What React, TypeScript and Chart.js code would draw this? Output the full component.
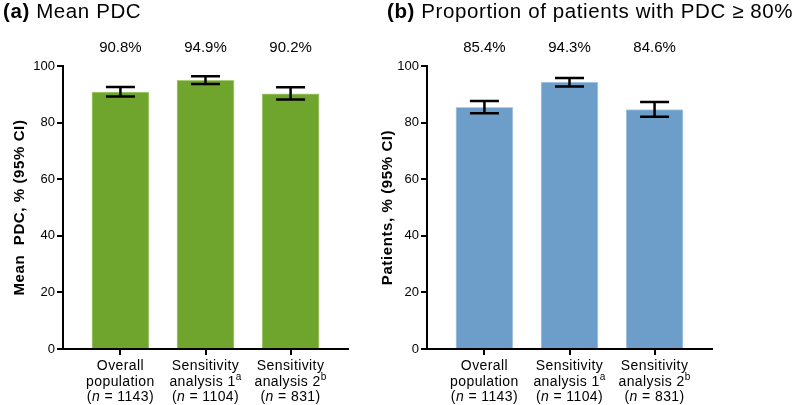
import React, { useEffect, useRef } from "react";
import { Chart, registerables } from "chart.js";

Chart.register(...registerables);

const categoryNames = ["Overall population", "Sensitivity analysis 1", "Sensitivity analysis 2"];
const footnotes = ["", "a", "b"];
const sampleSizes = [1143, 1104, 831];

const meanPdc = [90.8, 94.9, 90.2];
const meanPdcLow = [89.2, 93.6, 88.2];
const meanPdcHigh = [92.6, 96.4, 92.5];

const pdc80 = [85.4, 94.3, 84.6];
const pdc80Low = [83.3, 92.8, 82.1];
const pdc80High = [87.6, 95.8, 87.3];

const yTicks = [0, 20, 40, 60, 80, 100];

const FONT = "'Liberation Sans', Arial, Helvetica, sans-serif";

type Panel = {
  tag: string;
  title: string;
  yTitle: string;
  values: number[];
  low: number[];
  high: number[];
  color: string;
  edge: string;
  canvasLeft: number;
  canvasWidth: number;
  yAxisWidth: number;
  padRight: number;
  titleX: number;
  yTitleX: number;
};

const panels: Panel[] = [
  {
    tag: "(a)",
    title: "Mean PDC",
    yTitle: "Mean  PDC, % (95% CI)",
    values: meanPdc,
    low: meanPdcLow,
    high: meanPdcHigh,
    color: "#6fa52c",
    edge: "#a8cc78",
    canvasLeft: 0,
    canvasWidth: 398,
    yAxisWidth: 63,
    padRight: 50,
    titleX: 3,
    yTitleX: 20,
  },
  {
    tag: "(b)",
    title: "Proportion of patients with PDC \u2265 80%",
    yTitle: "Patients, % (95% CI)",
    values: pdc80,
    low: pdc80Low,
    high: pdc80High,
    color: "#6d9ec9",
    edge: "#b3cde5",
    canvasLeft: 370,
    canvasWidth: 427,
    yAxisWidth: 57,
    padRight: 85,
    titleX: 17,
    yTitleX: 18,
  },
];

type Seg = { t: string; k: "n" | "i" | "s" };

function drawRich(ctx: CanvasRenderingContext2D, segs: Seg[], cx: number, y: number) {
  const fontFor = (k: string) =>
    k === "i" ? `italic 14px ${FONT}` : k === "s" ? `10px ${FONT}` : `14px ${FONT}`;
  let total = 0;
  const widths = segs.map((s) => {
    ctx.font = fontFor(s.k);
    const w = ctx.measureText(s.t).width;
    total += w;
    return w;
  });
  let x = cx - total / 2;
  ctx.textAlign = "left";
  ctx.textBaseline = "alphabetic";
  segs.forEach((s, i) => {
    ctx.font = fontFor(s.k);
    ctx.fillText(s.t, x, s.k === "s" ? y - 6 : y);
    x += widths[i];
  });
}

function PanelChart({ p }: { p: Panel }) {
  const ref = useRef<HTMLCanvasElement | null>(null);
  useEffect(() => {
    if (!ref.current) return;
    const textPlugin = {
      id: "panelText",
      afterDatasetsDraw(chart: any) {
        const ctx = chart.ctx as CanvasRenderingContext2D;
        const xs = chart.scales.x;
        const ys = chart.scales.y;
        ctx.save();
        ctx.strokeStyle = "#000";
        ctx.lineWidth = 2.5;
        p.values.forEach((_, i) => {
          const x = xs.getPixelForValue(i);
          const yl = ys.getPixelForValue(p.low[i]);
          const yh = ys.getPixelForValue(p.high[i]);
          ctx.beginPath();
          ctx.moveTo(x, yl);
          ctx.lineTo(x, yh);
          ctx.moveTo(x - 14.5, yl);
          ctx.lineTo(x + 14.5, yl);
          ctx.moveTo(x - 14.5, yh);
          ctx.lineTo(x + 14.5, yh);
          ctx.stroke();
        });
        ctx.restore();
      },
      afterDraw(chart: any) {
        const ctx = chart.ctx as CanvasRenderingContext2D;
        const xs = chart.scales.x;
        const area = chart.chartArea;
        ctx.save();
        ctx.fillStyle = "#000";
        // panel title
        (ctx as any).letterSpacing = "0.6px";
        ctx.textAlign = "left";
        ctx.textBaseline = "alphabetic";
        ctx.font = `bold 20.5px ${FONT}`;
        ctx.fillText(p.tag, p.titleX, 18);
        const tw = ctx.measureText(p.tag).width;
        ctx.font = `20.5px ${FONT}`;
        ctx.fillText(" " + p.title, p.titleX + tw, 18);
        // value labels
        (ctx as any).letterSpacing = "0px";
        ctx.font = `15px ${FONT}`;
        ctx.textAlign = "center";
        p.values.forEach((v, i) => {
          ctx.fillText(v.toFixed(1) + "%", xs.getPixelForValue(i), area.top - 14);
        });
        // category labels
        (ctx as any).letterSpacing = "0.4px";
        categoryNames.forEach((name, i) => {
          const cx = xs.getPixelForValue(i);
          const sp = name.indexOf(" ");
          const l1 = name.slice(0, sp);
          const l2 = name.slice(sp + 1);
          drawRich(ctx, [{ t: l1, k: "n" }], cx, area.bottom + 21);
          const segs2: Seg[] = [{ t: l2, k: "n" }];
          if (footnotes[i]) segs2.push({ t: footnotes[i], k: "s" });
          drawRich(ctx, segs2, cx, area.bottom + 36.5);
          drawRich(
            ctx,
            [
              { t: "(", k: "n" },
              { t: "n", k: "i" },
              { t: ` = ${sampleSizes[i]})`, k: "n" },
            ],
            cx,
            area.bottom + 52
          );
        });
        // y title
        (ctx as any).letterSpacing = "0.6px";
        ctx.translate(p.yTitleX, (area.top + area.bottom) / 2);
        ctx.rotate(-Math.PI / 2);
        ctx.font = `bold 15px ${FONT}`;
        ctx.textAlign = "center";
        ctx.textBaseline = "middle";
        ctx.fillText(p.yTitle, 0, 0);
        ctx.restore();
      },
    };

    const chart = new Chart(ref.current, {
      type: "bar",
      data: {
        datasets: [
          {
            data: p.values.map((v, i) => ({ x: i, y: v })),
            backgroundColor: p.color,
            borderColor: p.edge,
            borderWidth: 1,
            barThickness: 57,
          } as any,
        ],
      },
      options: {
        animation: false,
        responsive: false,
        devicePixelRatio: 1,
        layout: { padding: { top: 66, left: 0, right: p.padRight, bottom: 0 } },
        plugins: { legend: { display: false }, tooltip: { enabled: false }, title: { display: false } },
        scales: {
          x: {
            type: "linear",
            offset: false,
            min: -0.675,
            max: 2.675,
            afterBuildTicks: (s: any) => {
              s.ticks = categoryNames.map((_, i) => ({ value: i }));
            },
            afterFit: (s: any) => {
              s.height = 56;
            },
            ticks: { callback: () => "", font: { size: 1 } },
            grid: { drawOnChartArea: false, drawTicks: true, tickLength: 6, color: "#000", lineWidth: 2, offset: false },
            border: { color: "#000", width: 2 },
          },
          y: {
            min: 0,
            max: 100,
            afterBuildTicks: (s: any) => {
              s.ticks = yTicks.map((v) => ({ value: v }));
            },
            afterFit: (s: any) => {
              s.width = p.yAxisWidth;
            },
            ticks: { color: "#000", font: { size: 13, family: FONT }, padding: 2 },
            grid: { drawOnChartArea: false, drawTicks: true, tickLength: 6, color: "#000", lineWidth: 2 },
            border: { color: "#000", width: 2 },
          },
        },
      } as any,
      plugins: [textPlugin],
    });
    return () => chart.destroy();
  }, [p]);
  return (
    <canvas
      ref={ref}
      width={p.canvasWidth}
      height={405}
      style={{ position: "absolute", left: p.canvasLeft, top: 0, width: p.canvasWidth, height: 405 }}
    />
  );
}

export default function App() {
  return (
    <div style={{ position: "fixed", left: 0, top: 0, width: 797, height: 405, background: "#fff", overflow: "hidden" }}>
      {panels.map((p) => (
        <PanelChart key={p.tag} p={p} />
      ))}
    </div>
  );
}
